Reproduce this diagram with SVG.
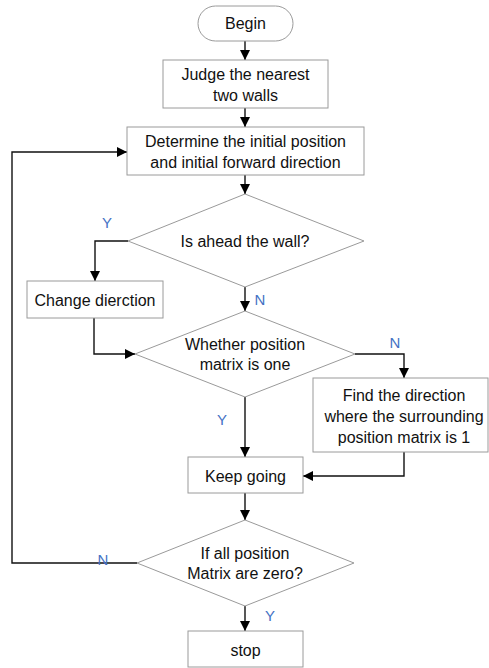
<svg xmlns="http://www.w3.org/2000/svg" width="489" height="668" viewBox="0 0 489 668">
<style>
.box{fill:#fff;stroke:#9a9a9a;stroke-width:1}
.t{font-family:"Liberation Sans",Arial,sans-serif;font-size:16px;fill:#111;text-anchor:middle;dominant-baseline:central}
.lbl{font-family:"Liberation Sans",Arial,sans-serif;font-size:15px;fill:#4472C4;text-anchor:middle;dominant-baseline:central}
.c{fill:none;stroke:#111;stroke-width:1.4}
</style>
<defs>
<marker id="ah" markerUnits="userSpaceOnUse" markerWidth="10" markerHeight="10" refX="10" refY="5" orient="auto">
<path d="M0,0 L10,5 L0,10 z" fill="#000"/>
</marker>
</defs>
<rect width="489" height="668" fill="#fff"/>
<g id="connectors">
<path class="c" d="M245,41 V60" marker-end="url(#ah)"/>
<path class="c" d="M245,108 V127" marker-end="url(#ah)"/>
<path class="c" d="M245,175 V194" marker-end="url(#ah)"/>
<path class="c" d="M128,241 H95 V281" marker-end="url(#ah)"/>
<path class="c" d="M245,287 V311" marker-end="url(#ah)"/>
<path class="c" d="M94,318 V354 H135" marker-end="url(#ah)"/>
<path class="c" d="M355,354 H404 V378" marker-end="url(#ah)"/>
<path class="c" d="M245,397 V457" marker-end="url(#ah)"/>
<path class="c" d="M404,452 V476 H303" marker-end="url(#ah)"/>
<path class="c" d="M245,493 V520" marker-end="url(#ah)"/>
<path class="c" d="M137,563 H12 V152 H127" marker-end="url(#ah)"/>
<path class="c" d="M245,606 V631" marker-end="url(#ah)"/>
<text class="lbl" x="107" y="222">Y</text>
<text class="lbl" x="260" y="299">N</text>
<text class="lbl" x="395" y="342">N</text>
<text class="lbl" x="222" y="419">Y</text>
<text class="lbl" x="103" y="559">N</text>
<text class="lbl" x="270" y="615">Y</text>
</g>
<g id="begin">
<rect class="box" x="198" y="6" width="95" height="35" rx="17.5" ry="17.5"/>
<text class="t" x="245.5" y="23.5">Begin</text>
</g>
<g id="judge">
<rect class="box" x="163" y="60" width="165" height="48"/>
<text class="t" x="245.5" y="74">Judge the nearest</text>
<text class="t" x="245.5" y="95">two walls</text>
</g>
<g id="determine">
<rect class="box" x="127" y="127" width="237" height="48"/>
<text class="t" x="245.5" y="141">Determine the initial position</text>
<text class="t" x="245.5" y="162">and initial forward direction</text>
</g>
<g id="ahead">
<polygon class="box" points="245,194 364,241 245,287 128,241"/>
<text class="t" x="245" y="241">Is ahead the wall?</text>
</g>
<g id="change">
<rect class="box" x="27" y="281" width="136" height="37"/>
<text class="t" x="95" y="300">Change dierction</text>
</g>
<g id="whether">
<polygon class="box" points="245,311 355,354 245,397 135,354"/>
<text class="t" x="245" y="344">Whether position</text>
<text class="t" x="245" y="364">matrix is one</text>
</g>
<g id="find">
<rect class="box" x="313" y="378" width="175" height="74"/>
<text class="t" x="404" y="395">Find the direction</text>
<text class="t" x="404" y="416">where the surrounding</text>
<text class="t" x="404" y="437">position matrix is 1</text>
</g>
<g id="keep">
<rect class="box" x="188" y="457" width="115" height="36"/>
<text class="t" x="245.5" y="476">Keep going</text>
</g>
<g id="allzero">
<polygon class="box" points="245,520 354,563 245,606 137,563"/>
<text class="t" x="245" y="553">If all position</text>
<text class="t" x="245" y="573">Matrix are zero?</text>
</g>
<g id="stop">
<rect class="box" x="188" y="631" width="115" height="36"/>
<text class="t" x="245.5" y="650">stop</text>
</g>
</svg>
